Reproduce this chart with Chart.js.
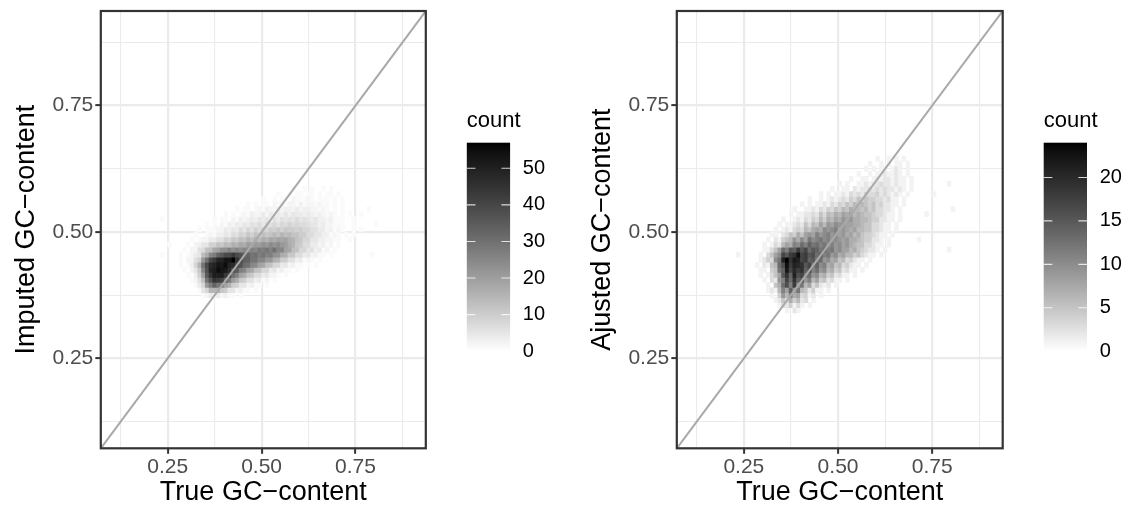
<!DOCTYPE html>
<html>
<head>
<meta charset="utf-8">
<title>GC-content bin2d</title>
<script src="https://cdn.jsdelivr.net/npm/chart.js@4.4.1/dist/chart.umd.min.js"></script>
<style>
  html, body { margin: 0; padding: 0; background: #fff; overflow: hidden; }
  #wrap { position: relative; width: 1131px; height: 515px; }
  canvas { position: absolute; top: 0; }
</style>
</head>
<body>
<div id="wrap">
  <canvas id="imputedChart" width="576" height="515" style="left:0"></canvas>
  <canvas id="adjustedChart" width="555" height="515" style="left:576px"></canvas>
</div>
<script>
// ── AXES ──────────────────────────────────────────────────────
const axisMin = 0.072;
const axisMax = 0.937;
const majorTicks = [0.25, 0.5, 0.75];
const tickLabels = ["0.25", "0.50", "0.75"];
const minorTicks = [0.125, 0.375, 0.625, 0.875];
const binWidth = 0.01;

// ── PANEL 1: imputed vs true (rows of bins, bottom edge y, first bin left x) ──
const imputedRowY  = [0.37, 0.38, 0.39, 0.40, 0.41, 0.42, 0.43, 0.44, 0.45, 0.46, 0.47,
                      0.48, 0.49, 0.50, 0.51, 0.52, 0.53, 0.54, 0.55, 0.56, 0.57, 0.58];
const imputedRowX0 = [0.34, 0.33, 0.32, 0.31, 0.30, 0.29, 0.28, 0.28, 0.28, 0.29, 0.30,
                      0.31, 0.32, 0.33, 0.35, 0.37, 0.40, 0.43, 0.46, 0.50, 0.54, 0.58];
const imputedCounts = [
  [1,2,4,3,4,2,3,1,1,0,1],
  [1,5,8,15,15,16,11,10,5,5,2,3,1,1,0,1],
  [1,4,8,21,27,33,29,27,19,16,10,9,5,5,2,3,1,1,0,1],
  [1,2,6,13,29,37,45,43,41,33,28,20,17,11,10,6,6,3,4,1,2,0,1],
  [1,0,3,9,19,35,44,51,50,51,44,39,30,26,19,17,12,11,7,7,4,5,2,2,1,0,1],
  [1,0,2,5,11,25,37,49,51,55,53,52,47,39,35,27,25,19,18,13,12,8,8,4,5,2,3,1,1,0,1],
  [1,0,1,3,8,15,29,39,47,49,53,52,55,49,47,40,37,31,30,25,24,19,18,13,12,8,8,4,5,2,3,1,1,0,1,0,1],
  [1,0,2,2,6,9,21,29,39,43,49,49,53,53,57,45,41,34,33,29,29,25,25,21,21,16,15,10,10,6,6,3,4,1,2,1,0,1],
  [1,0,1,2,4,5,13,17,25,27,33,35,39,39,43,39,37,33,33,29,30,27,29,26,27,23,22,17,16,11,11,7,7,4,5,2,3,1,1,0,1],
  [1,0,2,2,6,7,12,13,18,19,23,23,26,23,25,23,25,24,26,25,28,27,29,26,30,25,25,19,18,13,12,8,8,5,6,3,4,1,2,0,1],
  [1,0,2,3,5,5,9,9,12,11,14,13,16,15,18,17,20,19,21,20,23,21,24,22,24,21,20,17,15,11,10,7,7,4,4,2,3,1,2,0,1],
  [1,0,1,2,2,4,4,6,6,9,8,11,10,13,12,15,13,16,14,17,15,18,17,19,18,19,16,15,12,11,8,8,5,5,3,3,2,2,1,1,0,0,1],
  [1,0,0,1,2,1,3,3,5,4,7,6,9,8,11,9,12,10,13,11,12,14,12,15,13,14,12,12,10,10,7,7,5,5,3,3,1,2,1,0,1,0,1],
  [1,0,1,1,1,2,2,4,3,5,4,7,5,8,6,9,7,9,8,10,9,11,9,11,10,10,9,10,8,8,6,6,4,4,2,3,1,2,1,0,0,1,0,1],
  [1,0,1,0,2,1,3,2,4,3,5,4,6,5,7,5,7,6,8,6,8,7,9,7,8,7,7,6,5,5,3,4,2,2,1,1,1,0,0,1],
  [1,0,1,1,0,2,1,3,2,3,4,3,5,4,5,3,6,4,6,5,6,5,7,5,6,5,4,5,3,3,2,3,1,1,1,0,0,1],
  [1,0,1,0,1,2,1,3,2,2,4,2,4,3,4,3,5,3,5,4,4,3,4,3,2,3,2,1,2,1,0,1,0,1],
  [1,0,1,1,0,1,2,1,3,2,2,3,2,3,3,2,4,2,3,3,2,2,1,2,1,0,1,0,1],
  [1,0,1,0,1,1,0,2,1,2,1,2,2,1,3,1,2,2,1,2,1,1,0,1,0,1],
  [1,0,0,1,0,1,1,0,2,1,1,1,2,1,0,1,1,1,0,1,0,1],
  [1,0,0,1,0,1,1,0,1,1,0,1,0,1,1,0,1],
  [1,0,0,1,0,1,0,0,1,0,1],
];
// isolated single bins far from the cloud
const imputedStrayX = [0.23, 0.23, 0.25, 0.76, 0.78, 0.80, 0.79];
const imputedStrayY = [0.52, 0.45, 0.47, 0.53, 0.54, 0.51, 0.45];
const imputedLegendTicks = [0, 10, 20, 30, 40, 50];
const imputedMaxCount = 57;

// ── PANEL 2: adjusted vs true ─────────────────────────────────
const adjustedRowY  = [0.34, 0.35, 0.36, 0.37, 0.38, 0.39, 0.40, 0.41, 0.42, 0.43, 0.44,
                       0.45, 0.46, 0.47, 0.48, 0.49, 0.50, 0.51, 0.52, 0.53, 0.54, 0.55,
                       0.56, 0.57, 0.58, 0.59, 0.60, 0.61, 0.62, 0.63, 0.64];
const adjustedRowX0 = [0.36, 0.34, 0.33, 0.32, 0.31, 0.31, 0.30, 0.29, 0.29, 0.28, 0.28,
                       0.29, 0.30, 0.30, 0.31, 0.32, 0.33, 0.34, 0.35, 0.37, 0.38, 0.40,
                       0.42, 0.45, 0.48, 0.50, 0.53, 0.55, 0.57, 0.58, 0.60];
const adjustedCounts = [
  [1,0,2,1],
  [1,3,2,4,1,3,1,0,1],
  [1,2,5,3,7,4,6,2,3,0,1],
  [1,0,4,9,6,11,7,8,3,4,1,2,0,1],
  [1,2,1,6,11,8,14,9,12,6,5,2,4,1,1,0,1],
  [1,0,5,7,13,16,11,18,10,12,6,8,3,5,2,1,2,0,1],
  [1,0,3,2,9,11,17,13,19,14,15,9,11,6,8,4,5,2,3,1,1,0,1],
  [1,0,1,3,5,8,15,19,14,21,16,17,12,13,9,10,6,7,4,5,2,3,1,1,0,1],
  [1,1,0,4,5,12,14,22,17,20,18,19,14,16,11,13,9,10,6,7,4,5,2,3,1,1,0,1],
  [1,0,2,1,5,6,13,16,23,18,21,20,19,15,17,12,14,10,11,7,8,5,6,3,4,2,1,1,0,1],
  [0,1,2,4,3,10,12,21,24,19,22,21,17,18,14,15,12,13,9,10,7,8,5,6,3,4,2,1,1,0,1],
  [1,0,3,5,8,10,17,15,18,19,23,17,18,15,16,13,14,11,12,9,10,7,8,6,6,4,5,3,2,1,1,0,1],
  [1,1,3,5,8,13,11,15,14,18,15,17,13,15,14,12,13,11,12,9,10,8,8,6,7,5,4,3,2,2,1,0,1],
  [1,0,1,3,2,6,8,7,11,10,13,11,14,12,13,11,12,10,11,9,10,8,9,7,6,5,5,3,3,2,1,1,0,1],
  [1,0,2,1,4,5,6,9,7,10,8,12,10,11,12,10,11,9,10,9,8,9,7,7,6,5,4,4,2,2,1,0,1],
  [1,1,0,2,3,5,4,7,5,8,9,8,11,9,10,11,9,10,8,9,7,8,6,7,5,4,4,3,2,1,1,0,1],
  [1,0,1,2,1,3,4,3,6,5,7,8,7,10,9,10,11,8,9,8,7,8,6,6,5,5,3,3,2,1,1,0,1],
  [1,0,1,1,2,3,2,5,3,6,5,8,6,9,8,10,9,9,8,8,7,7,6,5,5,3,3,2,1,1,0,1],
  [1,0,0,1,2,1,3,2,4,3,6,4,7,6,8,7,9,8,9,7,7,6,6,5,4,4,2,2,1,1,0,1],
  [1,0,1,1,2,2,3,2,5,3,6,5,7,6,8,7,8,6,7,6,5,5,4,3,3,2,1,1,0,1],
  [1,0,0,1,1,2,1,3,2,4,3,5,4,6,5,7,6,6,5,6,4,5,3,3,2,2,1,0,1],
  [1,0,1,0,1,1,2,1,3,2,4,3,5,4,6,5,6,5,4,5,3,4,2,2,1,1,0,1],
  [1,0,0,1,0,1,2,1,2,3,2,4,3,5,4,5,4,4,3,3,2,3,1,1,0,1],
  [1,0,1,0,1,1,2,1,3,2,3,2,4,3,3,4,2,3,2,1,2,1,0,1],
  [1,0,0,1,1,0,2,1,2,2,3,2,3,2,3,2,2,1,2,1,0,1],
  [1,0,1,0,0,1,1,2,1,2,2,3,2,2,1,2,1,1,0,1],
  [1,0,0,1,1,0,1,2,1,2,2,1,2,1,1,0,1],
  [1,0,0,1,0,1,1,2,1,1,2,1,0,1],
  [1,0,1,0,1,1,0,1,2,1,0,1],
  [1,0,0,1,0,1,0,1,1,0,1],
  [1,0,0,1,0,1,0,1],
];
const adjustedStrayX = [0.23, 0.71, 0.73, 0.75, 0.79, 0.80, 0.79];
const adjustedStrayY = [0.45, 0.48, 0.53, 0.57, 0.59, 0.54, 0.46];
const adjustedLegendTicks = [0, 5, 10, 15, 20];
const adjustedMaxCount = 24;

// ── HELPERS ───────────────────────────────────────────────────
const FONT = '"Liberation Sans", Arial, Helvetica, sans-serif';
Chart.defaults.font.family = FONT;

const r4 = v => Math.round(v * 10000) / 10000; // same double for same bin centre

function buildCells(rowY, rowX0, counts, strayX, strayY) {
  const cells = [];
  rowY.forEach((y, r) => {
    counts[r].forEach((n, i) => {
      if (!n) return;
      cells.push({ x: r4(rowX0[r] + i * binWidth + binWidth / 2), y: [r4(y), r4(y + binWidth)], n });
    });
  });
  strayX.forEach((x, i) => {
    cells.push({ x: r4(x + binWidth / 2), y: [r4(strayY[i]), r4(strayY[i] + binWidth)], n: 1 });
  });
  return cells;
}

// white -> black, interpolated on CIELAB lightness like ggplot's gradient
function grayFor(n, max) {
  const L = 100 * (1 - n / max);
  const f = (L + 16) / 116;
  const Y = L > 8 ? f * f * f : L / 903.3;
  const s = Y <= 0.0031308 ? 12.92 * Y : 1.055 * Math.pow(Y, 1 / 2.4) - 0.055;
  const g = Math.round(Math.max(0, Math.min(1, s)) * 255);
  return `rgb(${g},${g},${g})`;
}

const isMajor = v => majorTicks.some(m => Math.abs(m - v) < 1e-9);

// ── PLUGINS ───────────────────────────────────────────────────
const panelBorder = {
  id: "panelBorder",
  afterDatasetsDraw(chart) {
    const { ctx, chartArea: a } = chart;
    ctx.save();
    ctx.strokeStyle = "#333333";
    ctx.lineWidth = 2.2;
    ctx.strokeRect(a.left, a.top, a.right - a.left, a.bottom - a.top);
    ctx.restore();
  },
};

const colorbar = {
  id: "colorbar",
  afterDraw(chart, args, opts) {
    const { ctx, chartArea } = chart;
    const x0 = chartArea.right + 41;
    const w = 43.3, top = 142.7, bottom = 351.2;
    const h = bottom - top;
    ctx.save();
    ctx.fillStyle = "#000";
    ctx.font = `22px ${FONT}`;
    ctx.textAlign = "left";
    ctx.textBaseline = "alphabetic";
    ctx.fillText("count", x0, 126.7);

    const grad = ctx.createLinearGradient(0, bottom, 0, top);
    for (let k = 0; k <= 20; k++) grad.addColorStop(k / 20, grayFor((k / 20) * opts.max, opts.max));
    ctx.fillStyle = grad;
    ctx.fillRect(x0, top, w, h);

    ctx.font = `20px ${FONT}`;
    ctx.textBaseline = "middle";
    opts.ticks.forEach(v => {
      const y = bottom - (v / opts.max) * h;
      ctx.strokeStyle = "rgba(255,255,255,0.8)";
      ctx.lineWidth = 1.1;
      ctx.beginPath();
      ctx.moveTo(x0, y); ctx.lineTo(x0 + w * 0.2, y);
      ctx.moveTo(x0 + w * 0.8, y); ctx.lineTo(x0 + w, y);
      ctx.stroke();
      ctx.fillStyle = "#000";
      ctx.fillText(String(v), x0 + w + 12.7, y);
    });
    ctx.restore();
  },
};

// ── CHART ─────────────────────────────────────────────────────
function axisOptions(title, isY) {
  return {
    type: "linear",
    min: axisMin,
    max: axisMax,
    offset: false,
    border: { display: false },
    grid: {
      offset: false,
      color: "#ebebeb",
      lineWidth: c => (c.tick && isMajor(c.tick.value) ? 2.2 : 1.1),
      tickColor: c => (c.tick && isMajor(c.tick.value) ? "#333333" : "rgba(0,0,0,0)"),
      tickLength: 5.5,
      tickWidth: 2,
    },
    afterBuildTicks: scale => {
      scale.ticks = majorTicks.concat(minorTicks).sort((a, b) => a - b).map(v => ({ value: v }));
    },
    ticks: {
      autoSkip: false,
      maxRotation: 0,
      padding: isY ? 2 : 0.6,
      color: "#4d4d4d",
      font: { size: 21 },
      callback: v => {
        const i = majorTicks.findIndex(m => Math.abs(m - v) < 1e-9);
        return i >= 0 ? tickLabels[i] : "";
      },
    },
    title: {
      display: true,
      text: title,
      color: "#000",
      font: { size: 27 },
      padding: isY ? { top: 10.3, bottom: 0 } : { top: 0, bottom: 5.8 },
    },
    afterFit: scale => {
      if (isY) scale.width = 100.8; else scale.height = 66.7;
      scale.paddingTop = 0; scale.paddingBottom = 0;
      scale.paddingLeft = 0; scale.paddingRight = 0;
    },
  };
}

function makePanel(id, yTitle, cells, maxCount, legendTicks, padRight) {
  const el = document.getElementById(id);
  return new Chart(el.getContext("2d"), {
    type: "bar",
    data: {
      datasets: [
        {
          type: "line",
          data: [{ x: axisMin, y: axisMin }, { x: axisMax, y: axisMax }],
          borderColor: "#a9a9a9",
          borderWidth: 2,
          pointRadius: 0,
          fill: false,
          tension: 0,
          order: 0,
        },
        {
          type: "bar",
          data: cells,
          backgroundColor: cells.map(c => grayFor(c.n, maxCount)),
          borderWidth: 0,
          barPercentage: 1,
          categoryPercentage: 1,
          grouped: false,
          order: 1,
        },
      ],
    },
    options: {
      responsive: false,
      animation: false,
      devicePixelRatio: 1,
      events: [],
      layout: { padding: { top: 11, right: padRight, bottom: 0, left: 0 } },
      plugins: {
        legend: { display: false },
        tooltip: { enabled: false },
        colorbar: { max: maxCount, ticks: legendTicks },
      },
      scales: {
        x: axisOptions("True GC\u2212content", false),
        y: axisOptions(yTitle, true),
      },
    },
    plugins: [panelBorder, colorbar],
  });
}

makePanel("imputedChart", "Imputed GC\u2212content",
  buildCells(imputedRowY, imputedRowX0, imputedCounts, imputedStrayX, imputedStrayY),
  imputedMaxCount, imputedLegendTicks, 150.2);

makePanel("adjustedChart", "Ajusted GC\u2212content",
  buildCells(adjustedRowY, adjustedRowX0, adjustedCounts, adjustedStrayX, adjustedStrayY),
  adjustedMaxCount, adjustedLegendTicks, 128.3);
</script>
</body>
</html>
